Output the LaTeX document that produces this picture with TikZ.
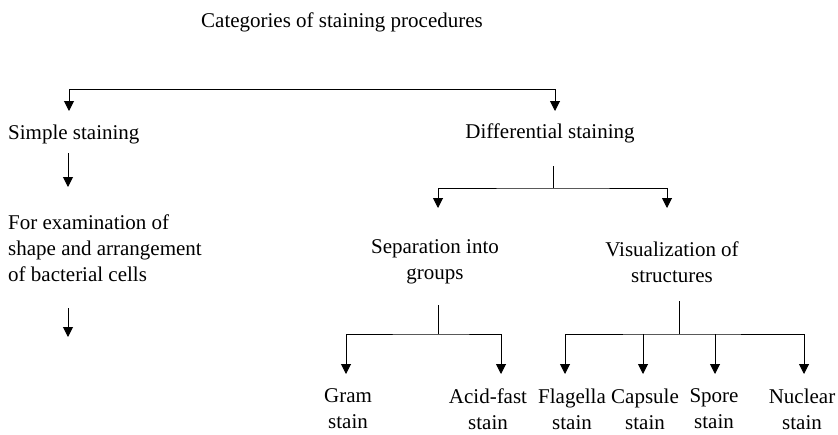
\documentclass[tikz,border=0pt]{standalone}
\usepackage{fontspec}
\setmainfont{Liberation Serif}
\usepackage{tikz}
\usetikzlibrary{positioning,arrows.meta,calc}
\tikzset{
  lbl/.style={inner sep=0pt,align=center,font=\fontsize{21}{26}\selectfont},
  lblleft/.style={lbl,align=left,anchor=west},
  link/.style={line width=1pt},
  arr/.style={link,-{Triangle[width=10pt,length=10pt]}},
  arrs/.style={link,{Triangle[width=10pt,length=10pt]}-{Triangle[width=10pt,length=10pt]}}
}

\begin{document}
\begin{tikzpicture}[x=1pt,y=-1pt]
  \useasboundingbox (0,0) rectangle (838,434);
  % labels
  \node[lbl] (cat) at (342,22) {Categories of staining procedures};
  \node[lblleft] (simple) at (8,134) {Simple staining};
  \node[lblleft] (exam) at (8,248) {For examination of\\shape and arrangement\\of bacterial cells};
  \node[lbl] (diff) at (550,133) {Differential staining};
  \node[lbl] (sep) at (435,262) {Separation into\\groups};
  \node[lbl] (vis) at (672,262) {Visualization of\\structures};
  \node[lbl] (gram) at (348,409) {Gram\\stain};
  \node[lbl] (acid) at (488,409) {Acid-fast\\stain};
  \node[lbl] (flag) at (572,409) {Flagella\\stain};
  \node[lbl] (caps) at (645,409) {Capsule\\stain};
  \node[lbl] (spor) at (714,409) {Spore\\stain};
  \node[lbl] (nucl) at (802,409) {Nuclear\\stain};
  % arrow ends
  \coordinate (toSimple) at (69,111);
  \coordinate (toDiff) at (555,111);
  \coordinate (ex1) at (68,153);
  \coordinate (toExam) at (68,187);
  \coordinate (ex2) at (68,308);
  \coordinate (exEnd) at (68,337);
  \coordinate (diffStub) at (553,166);
  \coordinate (diffJoin) at (553,188);
  \coordinate (toSep) at (438,208);
  \coordinate (toVis) at (667,208);
  \coordinate (sepStub) at (438,305);
  \coordinate (sepJoin) at (438,334);
  \coordinate (visStub) at (679,301);
  \coordinate (visJoin) at (679,334);
  \coordinate (toGram) at (346,374);
  \coordinate (toAcid) at (501,374);
  \coordinate (toFlag) at (565,374);
  \coordinate (toCaps) at (643,374);
  \coordinate (toSpor) at (715,374);
  \coordinate (toNucl) at (804,374);
  % connectors
  \draw[arrs] (toSimple) -- ++(0,-22) -| (toDiff);
  \draw[arr] (ex1) -- (toExam);
  \draw[arr] (ex2) -- (exEnd);
  \draw[link] (diffStub) -- (diffJoin);
  \draw[arrs] (toSep) |- (diffJoin) -| (toVis);
  \draw[link] (sepStub) -- (sepJoin);
  \draw[arrs] (toGram) |- (sepJoin) -| (toAcid);
  \draw[link] (visStub) -- (visJoin);
  \draw[arrs] (toFlag) |- (visJoin) -| (toNucl);
  \draw[arr] (toCaps |- visJoin) -- (toCaps);
  \draw[arr] (toSpor |- visJoin) -- (toSpor);
\end{tikzpicture}
\end{document}
